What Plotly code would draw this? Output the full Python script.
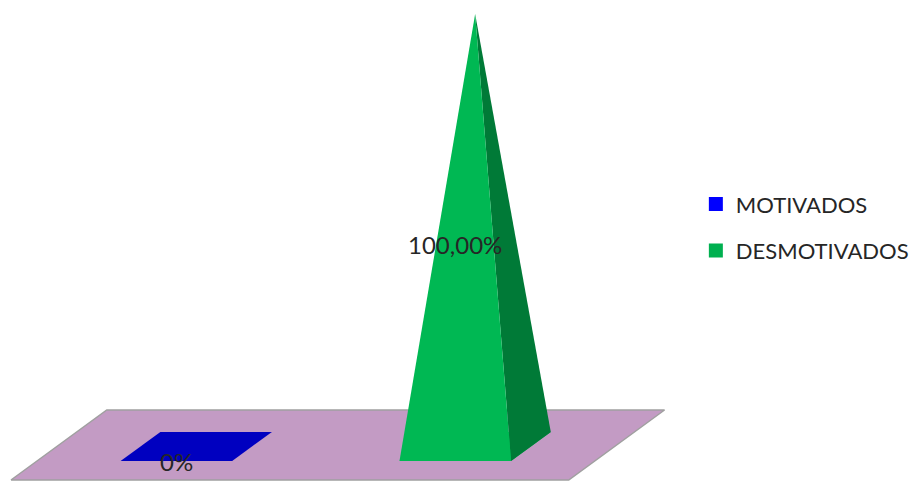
import plotly.graph_objects as go

# data
categories = ["MOTIVADOS", "DESMOTIVADOS"]
values = [0, 100]          # percent
value_labels = ["0%", "100,00%"]

# colours
legend_colors = ["#0000FF", "#00B050"]
top_colors = ["#0000C0", "#00B853"]
side_colors = ["#000090", "#007A37"]
floor_color = "#C39BC4"

# fake 3D projection (screen units)
X0 = 11          # floor front-left
SLOT = 279.5     # width of one category slot
BAR = 0.40       # base width as share of slot
DX, DY = 96, 70  # screen shift for full floor depth
Z_FRONT, Z_BACK = 0.271, 0.686
FLOOR_Y = 2
PX_PER_UNIT = 4.325


def proj(x, z, v=0):
    return x + z * DX, FLOOR_Y + z * DY + v * PX_PER_UNIT


def poly(points, color, line_color=None, width=0):
    pts = [proj(*p) for p in points]
    xs = [p[0] for p in pts] + [pts[0][0]]
    ys = [p[1] for p in pts] + [pts[0][1]]
    return go.Scatter(x=xs, y=ys, mode="lines", fill="toself", fillcolor=color,
                      line=dict(color=line_color or color, width=width),
                      showlegend=False, hoverinfo="skip")


fig = go.Figure()

# floor
x_end = X0 + SLOT * len(categories)
fig.add_trace(poly([(X0, 0), (x_end, 0), (x_end, 1), (X0, 1)],
                   floor_color, "#A0A0A0", 1.5))

zm = (Z_FRONT + Z_BACK) / 2
for i, (cat, v) in enumerate(zip(categories, values)):
    cx = X0 + SLOT * (i + 0.5)
    xl, xr = cx - SLOT * BAR / 2, cx + SLOT * BAR / 2
    # base
    fig.add_trace(poly([(xl, Z_FRONT), (xr, Z_FRONT), (xr, Z_BACK), (xl, Z_BACK)],
                       top_colors[i]))
    if v > 0:
        apex = (cx, zm, v)
        fig.add_trace(poly([(xr, Z_FRONT), (xr, Z_BACK), apex], side_colors[i]))
        fig.add_trace(poly([(xl, Z_FRONT), (xr, Z_FRONT), apex], top_colors[i]))
    lx, ly = proj(cx, Z_FRONT, v / 2)
    fig.add_annotation(x=lx, y=ly, text=value_labels[i], showarrow=False,
                       font=dict(size=24, color="#262626"))

# legend entries
for cat, col in zip(categories, legend_colors):
    fig.add_trace(go.Scatter(x=[None], y=[None], mode="markers", name=cat,
                             legendgroup=cat,
                             marker=dict(symbol="square", size=14, color=col)))

fig.update_layout(
    width=914, height=482,
    margin=dict(l=0, r=0, t=0, b=0),
    paper_bgcolor="white", plot_bgcolor="white",
    font=dict(family="Lato, Liberation Sans, sans-serif", color="#262626"),
    xaxis=dict(range=[0, 914], visible=False, fixedrange=True),
    yaxis=dict(range=[0, 482], visible=False, fixedrange=True),
    legend=dict(x=0.763, y=0.62, xanchor="left", yanchor="top",
                font=dict(size=22), tracegroupgap=15,
                bgcolor="rgba(0,0,0,0)"),
)

fig.write_html("out.html", config={"displayModeBar": False},
               post_script="document.body.style.margin='0';")
